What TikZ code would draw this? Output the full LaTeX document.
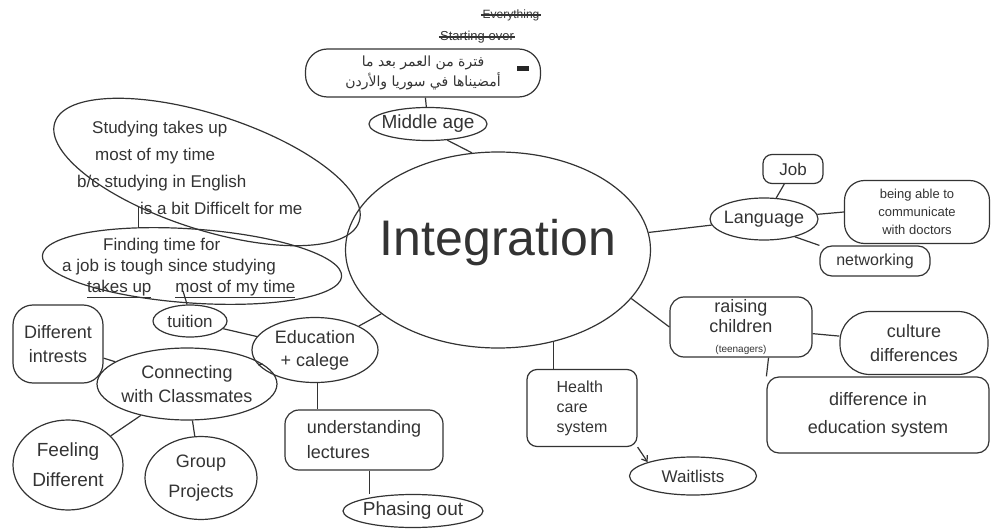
\documentclass[tikz,border=0pt]{standalone}
\usepackage{fontspec}
\setmainfont{Liberation Sans}
\newfontfamily\arabicfont[Script=Arabic]{DejaVu Sans}
\TeXXeTstate=1
\usetikzlibrary{shapes.geometric,arrows.meta}
\newcommand{\hand}[2]{\fontsize{#1}{#2}\selectfont}

\begin{document}
\begin{tikzpicture}[x=1pt,y=-1pt,
  every node/.style={text=black!80},
  oval/.style={ellipse, draw=black!80, line width=1.2pt, inner sep=0pt},
  roundbox/.style={rectangle, draw=black!80, line width=1.2pt, inner sep=0pt, rounded corners=#1},
  roundbox/.default=12pt,
  stub/.style={draw=black!80, line width=1.2pt}]
\useasboundingbox (0,0) rectangle (991,532);

\node[oval, minimum width=305pt, minimum height=196pt,
  label={[yshift=7pt, font=\hand{50}{56}]center:Integration}] (integ) at (498,250) {};

\node[font=\hand{12}{14}, inner sep=1pt] (everything) at (511,15) {Everything};
\node[font=\hand{13}{15}, inner sep=1pt] (startover) at (477,37) {Starting over};
\fill[black!85] (517,66) rectangle (529,71);

\node[roundbox=22pt, minimum width=235pt, minimum height=48pt,
  label={[align=center, font=\arabicfont\hand{14}{20}]center:\beginR فترة من العمر بعد ما\endR\\\beginR أمضيناها في سوريا والأردن\endR}] (arabic) at (423,73) {};
\node[oval, minimum width=118pt, minimum height=33pt,
  label={[font=\hand{19}{22}]center:Middle age}] (middle) at (428,124) {};

\node[oval, rotate=-18, minimum width=320pt, minimum height=115pt] (study) at (207,172) {};
\node[align=left, anchor=west, inner sep=0pt, font=\hand{17}{27}] (study-t) at (77,168)
  {\hspace*{15pt}Studying takes up\\\hspace*{18pt}most of my time\\b/c studying in English\\\hspace*{63pt}is a bit Difficelt for me};

\node[oval, rotate=-4, minimum width=300pt, minimum height=74pt] (find) at (192,266) {};
\node[align=left, anchor=west, inner sep=0pt, font=\hand{17}{21}] (find-t) at (62,268)
  {\hspace*{41pt}Finding time for\\a job is tough since studying\\\hspace*{25pt}\underline{takes up}\hspace{24pt}\underline{most of my time}};

\node[oval, minimum width=74pt, minimum height=32pt,
  label={[font=\hand{17}{20}]center:tuition}] (tuition) at (190,321) {};
\node[oval, minimum width=126pt, minimum height=65pt,
  label={[align=center, font=\hand{18}{23}]center:Education\\+ calege}] (edu) at (315,350) {};
\node[oval, minimum width=180pt, minimum height=72pt,
  label={[align=center, font=\hand{18}{24}]center:Connecting\\with Classmates}] (connect) at (187,384) {};
\node[roundbox=20pt, minimum width=90pt, minimum height=78pt,
  label={[align=center, font=\hand{18}{24}]center:Different\\intrests}] (diffint) at (58,344) {};
\node[oval, minimum width=110pt, minimum height=90pt,
  label={[align=center, font=\hand{19}{30}]center:Feeling\\Different}] (feel) at (68,465) {};
\node[oval, minimum width=112pt, minimum height=83pt,
  label={[align=center, font=\hand{18}{30}]center:Group\\Projects}] (group) at (201,478) {};
\node[roundbox=14pt, minimum width=158pt, minimum height=60pt,
  label={[align=left, font=\hand{18}{25}]center:understanding\\lectures}] (under) at (364,440) {};
\node[oval, minimum width=140pt, minimum height=33pt,
  label={[font=\hand{19}{22}]center:Phasing out}] (phase) at (413,511) {};

\node[oval, minimum width=108pt, minimum height=42pt,
  label={[font=\hand{18}{21}]center:Language}] (lang) at (764,219) {};
\node[roundbox=9pt, minimum width=60pt, minimum height=29pt,
  label={[font=\hand{17}{20}]center:Job}] (job) at (793,169) {};
\node[roundbox=20pt, minimum width=145pt, minimum height=63pt,
  label={[align=center, font=\hand{13}{18}]center:being able to\\communicate\\with doctors}] (able) at (917,212) {};
\node[roundbox=12pt, minimum width=110pt, minimum height=30pt,
  label={[font=\hand{16}{19}]center:networking}] (netw) at (875,261) {};

\node[roundbox=14pt, minimum width=142pt, minimum height=60pt,
  label={[align=center, font=\hand{18}{20}]center:raising\\children\\{\hand{10}{10}(teenagers)}}] (raise) at (741,327) {};
\node[roundbox=30pt, minimum width=148pt, minimum height=63pt,
  label={[align=center, font=\hand{18}{24}]center:culture\\differences}] (culture) at (914,343) {};
\node[roundbox=12pt, minimum width=222pt, minimum height=76pt,
  label={[align=center, font=\hand{18}{28}]center:difference in\\education system}] (diffedu) at (878,415) {};

\node[roundbox=10pt, minimum width=110pt, minimum height=77pt,
  label={[align=left, font=\hand{16}{20}]center:Health\\care\\system}] (health) at (582,408) {};
\node[oval, minimum width=127pt, minimum height=38pt,
  label={[font=\hand{17}{20}]center:Waitlists}] (wait) at (693,476) {};

\coordinate (findgap) at (183,291);

\draw[stub, line width=1.6pt] (everything.west) -- (everything.east);
\draw[stub, line width=1.6pt] (startover.west) -- (startover.east);
\draw[stub] (arabic) -- (middle);
\draw[stub] (middle.-40) -- (integ.105);
\draw[stub] (study.225) -- (study.225 |- find.north);
\draw[stub] (tuition.100) -- (findgap);
\draw[stub] (tuition) -- (edu);
\draw[stub] (edu) -- (integ);
\draw[stub] (edu) -- (connect);
\draw[stub] (edu.-85) -- (edu.-85 |- under.north);
\draw[stub] (under.-80) -- (under.-80 |- phase.north);
\draw[stub] (connect) -- (diffint);
\draw[stub] (connect) -- (feel);
\draw[stub] (connect) -- (group);
\draw[stub] (integ) -- (lang);
\draw[stub] (lang) -- (job);
\draw[stub] (lang) -- (able.west);
\draw[stub] (lang.-30) -- (netw.north west);
\draw[stub] (integ.-20) -- (raise.west);
\draw[stub] (raise) -- (culture);
\draw[stub] (raise.-48) -- (diffedu.north west);
\draw[stub] (integ.-59) -- (integ.-59 |- health.north);
\draw[stub, -{Straight Barb[length=5pt, width=7pt]}] (health.south east) -- (wait.north west);
\end{tikzpicture}
\end{document}
